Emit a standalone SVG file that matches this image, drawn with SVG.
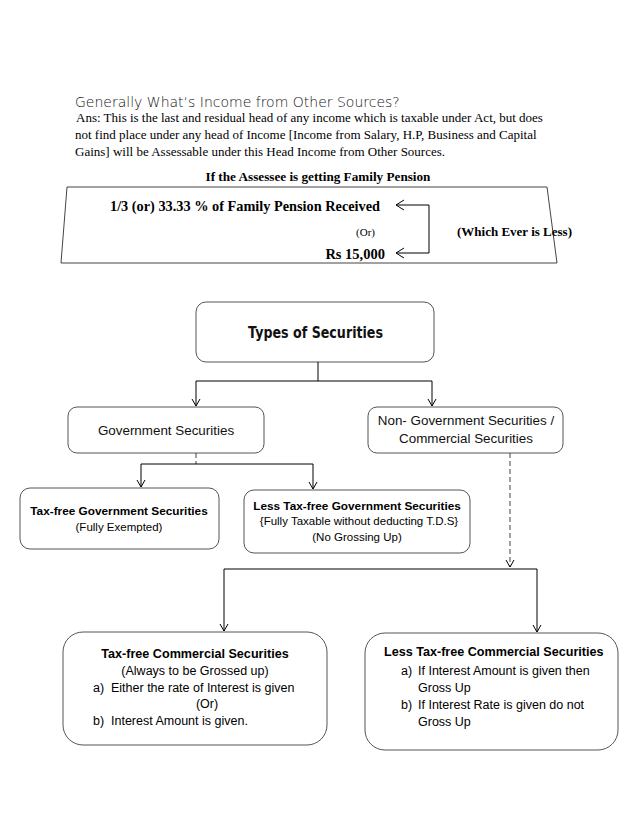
<svg xmlns="http://www.w3.org/2000/svg" width="638" height="826" viewBox="0 0 638 826">
<defs>
<marker id="ah" markerWidth="10" markerHeight="10" refX="8" refY="5" orient="auto" markerUnits="userSpaceOnUse">
<path d="M1,1 L8,5 L1,9" fill="none" stroke="#000" stroke-width="1"/>
</marker>
</defs>
<style>
.serif{font-family:"Liberation Serif","DejaVu Serif",serif;fill:#000}
.sb{font-family:"Liberation Serif","DejaVu Serif",serif;font-weight:bold;fill:#000}
.box{fill:#fff;stroke:#555;stroke-width:1}
.gs{font-family:"Liberation Sans",Arial,sans-serif;font-size:13.4px;fill:#111}
.cal{font-family:"Liberation Sans",Arial,sans-serif;font-size:11.5px;fill:#000}
.calb{font-family:"Liberation Sans",Arial,sans-serif;font-size:11.8px;font-weight:bold;fill:#000}
.c2{font-family:"Liberation Sans",Arial,sans-serif;font-size:12.5px;fill:#000}
.c2b{font-family:"Liberation Sans",Arial,sans-serif;font-size:12.6px;font-weight:bold;fill:#000}
.ln{fill:none;stroke:#000;stroke-width:1}
.dash{fill:none;stroke:#444;stroke-width:1;stroke-dasharray:5,3}
</style>
<rect width="638" height="826" fill="#fff"/>
<g id="intro">
<text x="75" y="107" font-family="'DejaVu Sans',sans-serif" font-weight="300" font-size="14" fill="#111">Generally What‘s Income from Other Sources?</text>
<text class="serif" font-size="13" x="76" y="122"> Ans: This is the last and residual head of any income which is taxable under Act, but does</text>
<text class="serif" font-size="13" x="75" y="139">not find place under any head of Income [Income from Salary, H.P, Business and Capital</text>
<text class="serif" font-size="13" x="75" y="156">Gains] will be Assessable under this Head Income from Other Sources.</text>
<text class="sb" font-size="13.2" x="318" y="181" text-anchor="middle">If the Assessee is getting Family Pension</text>
</g>
<g id="pension">
<path d="M67,187 L547,187 L557,263 L61,263 Z" fill="none" stroke="#444" stroke-width="1"/>
<text class="sb" font-size="14.3" x="110" y="211">1/3 (or) 33.33 % of  Family Pension Received</text>
<text class="serif" font-size="11" x="375" y="236" text-anchor="end">(Or)</text>
<text class="serif" font-size="13" x="457" y="236" font-weight="bold">(Which Ever is Less)</text>
<text class="sb" font-size="14.5" x="385" y="259" text-anchor="end">Rs 15,000</text>
<path class="ln" d="M396,205 L429,205 L429,253 L396,253"/>
<path class="ln" d="M404,200 L396,205 L404,210 M404,248 L396,253 L404,258"/>
</g>
<g id="types">
<rect class="box" x="196" y="302" width="238" height="60" rx="10"/>
<text x="248" y="338" textLength="135" lengthAdjust="spacingAndGlyphs" font-family="'DejaVu Sans',sans-serif" font-weight="900" font-size="15" fill="#111">Types of Securities</text>
</g>
<g id="gov">
<rect class="box" x="68" y="407" width="196" height="46" rx="9"/>
<text class="gs" x="166" y="435" text-anchor="middle">Government Securities</text>
</g>
<g id="nongov">
<rect class="box" x="368" y="407" width="195" height="46" rx="9"/>
<text class="gs" x="466" y="425" text-anchor="middle">Non- Government Securities /</text>
<text class="gs" x="466" y="443" text-anchor="middle">Commercial Securities</text>
</g>
<g id="taxfreegov">
<rect class="box" x="20" y="488" width="199" height="61" rx="10"/>
<text class="calb" x="119" y="515" text-anchor="middle">Tax-free Government Securities</text>
<text class="cal" x="119" y="531" text-anchor="middle">(Fully Exempted)</text>
</g>
<g id="lesstaxgov">
<rect class="box" x="244" y="490" width="226" height="63" rx="10"/>
<text class="calb" x="357" y="510" text-anchor="middle">Less Tax-free Government Securities</text>
<text class="cal" x="359" y="525" text-anchor="middle">{Fully Taxable without deducting T.D.S}</text>
<text class="cal" x="357" y="541" text-anchor="middle">(No Grossing Up)</text>
</g>
<g id="taxfreecom">
<rect class="box" x="63" y="632" width="264" height="113" rx="20"/>
<text class="c2b" x="195" y="658" text-anchor="middle">Tax-free Commercial Securities</text>
<text class="c2" x="195" y="675" text-anchor="middle">(Always to be Grossed up)</text>
<text class="c2" x="93" y="692">a)</text>
<text class="c2" x="111" y="692">Either the rate of Interest is given</text>
<text class="c2" x="207" y="708" text-anchor="middle">(Or)</text>
<text class="c2" x="93" y="725">b)</text>
<text class="c2" x="111" y="725">Interest Amount is given.</text>
</g>
<g id="lesstaxcom">
<rect class="box" x="365" y="633" width="253" height="117" rx="20"/>
<text class="c2b" x="384" y="656">Less Tax-free Commercial Securities</text>
<text class="c2" x="401" y="675">a)</text>
<text class="c2" x="418" y="675">If Interest Amount is given then</text>
<text class="c2" x="418" y="692">Gross Up</text>
<text class="c2" x="401" y="709">b)</text>
<text class="c2" x="418" y="709">If Interest Rate is given do not</text>
<text class="c2" x="418" y="726">Gross Up</text>
</g>
<g id="connectors">
<path class="ln" d="M318,362 L318,381"/>
<path class="ln" d="M196,381 L432,381"/>
<path class="ln" d="M196,381 L196,406" marker-end="url(#ah)"/>
<path class="ln" d="M432,381 L432,406" marker-end="url(#ah)"/>
<path class="dash" d="M196,453 L196,464" stroke="#999"/>
<path class="ln" d="M141,464 L313,464"/>
<path class="ln" d="M141,464 L141,487" marker-end="url(#ah)"/>
<path class="ln" d="M313,464 L313,489" marker-end="url(#ah)"/>
<path class="dash" d="M510,453 L510,567" marker-end="url(#ah)"/>
<path class="ln" d="M224,569 L537,569"/>
<path class="ln" d="M224,569 L224,631" marker-end="url(#ah)"/>
<path class="ln" d="M537,569 L537,632" marker-end="url(#ah)"/>
</g>
</svg>
